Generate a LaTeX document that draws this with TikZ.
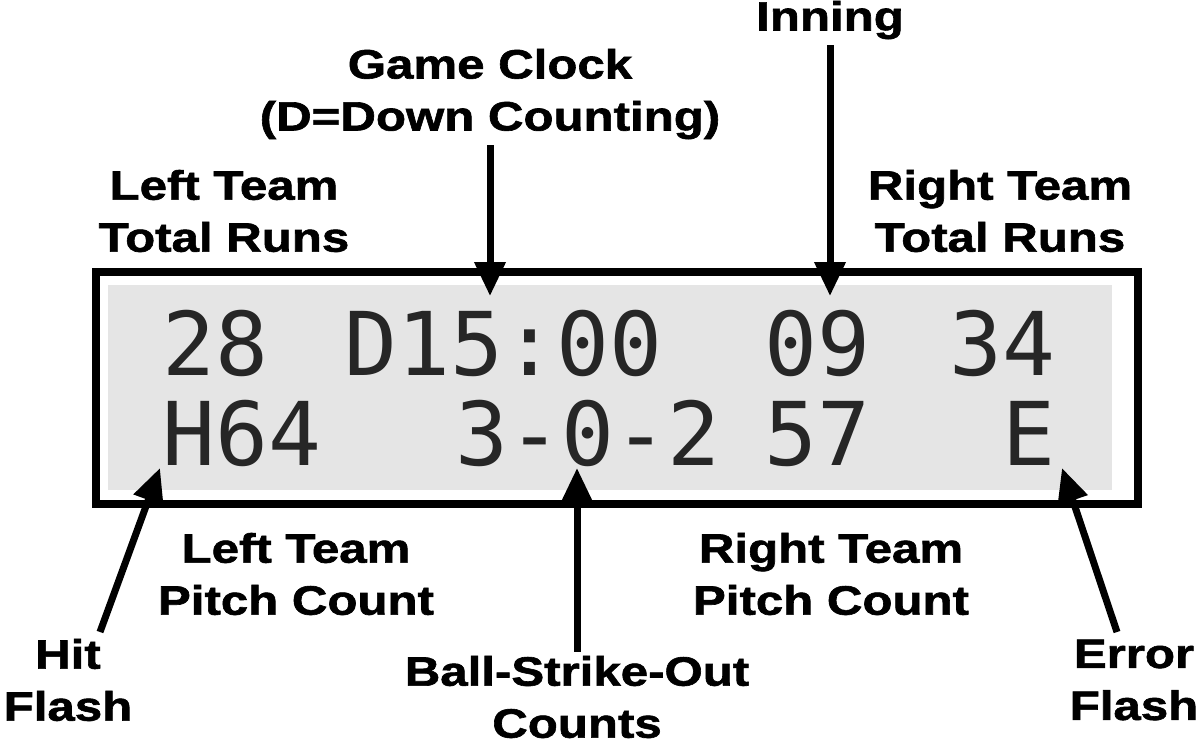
\documentclass[tikz,border=0pt]{standalone}
\usepackage{fontspec}
\setmainfont{Liberation Sans}
\newfontfamily\labfont[FakeStretch=1.2,FakeBold=1.5]{Liberation Sans Bold}
\newfontfamily\lcd{DejaVu Sans Mono}
\usetikzlibrary{arrows.meta}
\begin{document}
\begin{tikzpicture}[x=1pt,y=-1pt,
  lab/.style={font=\fontsize{41}{52}\selectfont\labfont,align=center,inner sep=0},
  dig/.style={font=\fontsize{88}{90}\selectfont\lcd,text=black!85,anchor=base west,inner sep=0},
  arr/.style={line width=7pt,-{Triangle[length=34pt,width=30pt]}}]
\useasboundingbox (0,0) rectangle (1200,755);
\draw[line width=8pt,fill=white] (96,272) rectangle (1138,504);
\fill[gray!20] (108,285) rectangle (1112,490);
% display text
\node[dig] (r1a) at (162,375) {28};
\node[dig] (r1b) at (344,375) {D15:00};
\node[dig] (r1c) at (764,375) {09};
\node[dig] (r1d) at (949,375) {34};
\node[dig] (r2a) at (162,465) {H64};
\node[dig] (r2b) at (455,465) {3-0-2};
\node[dig] (r2c) at (764,465) {57};
\node[dig] (r2d) at (1002,465) {E};
% labels
\node[lab] (inn) at (830,20) {Inning};
\node[lab] (gc) at (490,94) {Game Clock\\(D=Down Counting)};
\node[lab] (ltr) at (224,211) {Left Team\\Total Runs};
\node[lab] (rtr) at (1000,211) {Right Team\\Total Runs};
\node[lab] (lpc) at (296,574) {Left Team\\Pitch Count};
\node[lab] (rpc) at (831,574) {Right Team\\Pitch Count};
\node[lab] (hit) at (68,680) {Hit\\Flash};
\node[lab] (bso) at (577,697) {Ball-Strike-Out\\Counts};
\node[lab] (err) at (1134,680) {Error\\Flash};
% arrow targets
\coordinate (gcT) at (490,296);
\coordinate (innT) at (830,296);
\coordinate (bsoT) at (577,468);
\coordinate (hitT) at (160,468);
\coordinate (errT) at (1062,468);
\draw[arr] (gc.south) ++(0,6) -- (gcT);
\draw[arr] (inn.south) ++(0,6) -- (innT);
\draw[arr] (bso.north) ++(0,-4) -- (bsoT);
\draw[arr] (100,632) -- (hitT);
\draw[arr] (1117,632) -- (errT);
\end{tikzpicture}
\end{document}
